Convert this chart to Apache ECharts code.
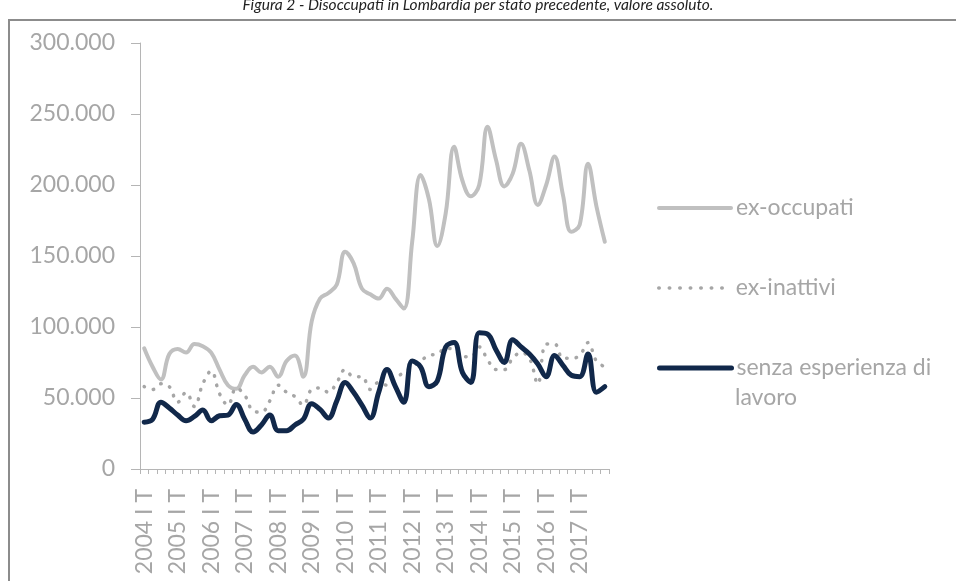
<!DOCTYPE html>
<html>
<head>
<meta charset="utf-8">
<script src="https://cdn.jsdelivr.net/npm/echarts@6/dist/echarts.min.js"></script>
<style>html,body{margin:0;padding:0;background:#fff}#c{width:956px;height:581px}</style>
</head>
<body>
<div id="c"></div>
<script>
const years = [2004,2005,2006,2007,2008,2009,2010,2011,2012,2013,2014,2015,2016,2017];
const quarters = ['I T','II T','III T','IV T'];
const categories = [];
years.forEach(y => quarters.forEach(q => categories.push(y + ' ' + q)));

const exOccupati = [85000,72000,63000,81000,84500,82000,88000,86500,82000,70000,59000,56500,
  66000,72000,68000,72000,65000,76000,80000,65000,104000,120000,124000,130000,
  153000,145000,127000,123000,120000,127000,120000,113000,160000,207000,190000,157000,
  180000,227000,203000,192000,200000,241000,218000,199000,208000,229000,210000,186000,
  200000,220000,193000,167000,172000,215000,185000,160000];

const exInattivi = [58000,56000,60000,58000,47000,54000,44000,60000,69000,53000,45000,57000,
  52000,41000,40000,48000,59000,54000,51000,45000,56000,57000,54000,61000,
  70000,65000,65000,56000,61000,59000,64000,68000,72000,76000,80000,81000,
  85000,84000,79000,79000,86000,77000,70000,70000,78000,82000,78000,60000,
  88000,88000,78000,78000,80000,89000,76000,72000];

const senzaEsperienza = [33000,35000,47000,43000,38000,34000,37000,41500,34000,37500,38000,45500,
  35000,26000,31000,38000,27000,27000,31000,35000,46000,42000,36000,48000,
  61000,54000,45000,36000,54000,70000,58000,47000,76000,72000,58000,62000,
  86000,89000,68000,61000,96000,95000,84000,75000,91000,86000,81000,74000,
  65000,80000,73000,66000,65000,81000,54000,58000];

const seriesNames = ['ex-occupati','ex-inattivi','senza esperienza di lavoro'];

const FONT = 'Lato, "Open Sans", sans-serif';
const GREY_TXT = '#a6a6a6';
const chart = echarts.init(document.getElementById('c'));

function legendAt(name, top, lineStyle, label) {
  return {
    show: true, orient: 'vertical', left: 657, top: top, padding: 0,
    data: [name], itemWidth: 72, itemHeight: 20, itemGap: 0,
    selectedMode: false,
    formatter: () => label,
    textStyle: { fontFamily: FONT, fontSize: 23, color: GREY_TXT, lineHeight: 20 },
    lineStyle: lineStyle,
    itemStyle: { opacity: 0, borderWidth: 0 }
  };
}

chart.setOption({
  animation: false,
  title: {
    text: 'Figura 2 - Disoccupati in Lombardia per stato precedente, valore assoluto.',
    left: 'center', top: -3, padding: 0,
    textStyle: { fontFamily: FONT, fontSize: 15.5, fontStyle: 'italic', fontWeight: 'normal', color: '#222' }
  },
  graphic: [
    { type: 'rect', shape: { x: 9, y: 20, width: 1000, height: 700 }, style: { fill: 'none', stroke: '#8c8c8c', lineWidth: 2 }, z: -1 },
    { type: 'text', left: 735, top: 386, style: { text: 'lavoro', fontFamily: FONT, fontSize: 23, fill: GREY_TXT } }
  ],
  legend: [
    legendAt(seriesNames[0], 196.5, { width: 4, color: '#c0c0c0', cap: 'round' }, 'ex-occupati'),
    legendAt(seriesNames[1], 276.5, { width: 3.5, color: '#a6a6a6', type: [0.5, 10], cap: 'round' }, 'ex-inattivi'),
    legendAt(seriesNames[2], 356.5, { width: 5, color: '#11284a', cap: 'round' }, 'senza esperienza di')
  ],
  grid: { left: 140, right: 347, top: 43, bottom: 112, containLabel: false },
  xAxis: {
    type: 'category', data: categories, boundaryGap: true,
    axisLine: { lineStyle: { color: '#b5b5b5', width: 1 } },
    axisTick: { show: true, interval: 0, length: 5, lineStyle: { color: '#b5b5b5' } },
    axisLabel: { interval: 3, rotate: 90, margin: 20, fontFamily: FONT, fontSize: 23, color: GREY_TXT }
  },
  yAxis: {
    type: 'value', min: 0, max: 300000, interval: 50000,
    splitLine: { show: false },
    axisLine: { show: true, lineStyle: { color: '#b5b5b5', width: 1 } },
    axisTick: { show: true, length: 9, lineStyle: { color: '#b5b5b5' } },
    axisLabel: {
      margin: 25, fontFamily: FONT, fontSize: 23, color: GREY_TXT,
      formatter: v => v === 0 ? '0' : (v / 1000).toFixed(0) + '.000'
    }
  },
  series: [
    { name: seriesNames[0], type: 'line', data: exOccupati, smooth: 0.4, symbol: 'none',
      lineStyle: { color: '#c0c0c0', width: 4, cap: 'round', join: 'round' }, itemStyle: { color: '#c0c0c0' }, z: 2 },
    { name: seriesNames[1], type: 'line', data: exInattivi, smooth: 0.4, symbol: 'none',
      lineStyle: { color: '#a6a6a6', width: 3.5, type: [0.5, 9], cap: 'round' }, itemStyle: { color: '#a6a6a6' }, z: 3 },
    { name: seriesNames[2], type: 'line', data: senzaEsperienza, smooth: 0.4, symbol: 'none',
      lineStyle: { color: '#11284a', width: 5, cap: 'round', join: 'round' }, itemStyle: { color: '#11284a' }, z: 4 }
  ]
});
</script>
</body>
</html>
